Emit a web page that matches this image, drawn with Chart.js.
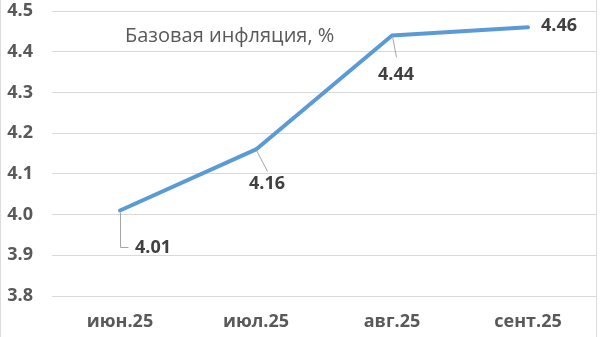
<!DOCTYPE html>
<html>
<head>
<meta charset="utf-8">
<script src="https://cdn.jsdelivr.net/npm/chart.js@4"></script>
<style>
  html, body { margin: 0; padding: 0; background: #fff; }
  #wrap { width: 600px; height: 337px; position: relative; }
</style>
</head>
<body>
<div id="wrap"><canvas id="inflChart"></canvas></div>
<script>
const months = ['июн.25', 'июл.25', 'авг.25', 'сент.25'];
const coreInflation = [4.01, 4.16, 4.44, 4.46];
const yTicks = [3.8, 3.9, 4.0, 4.1, 4.2, 4.3, 4.4, 4.5];
const chartTitle = 'Базовая инфляция, %';

const FONT = '"Open Sans", sans-serif';

// where each value label sits relative to its point, and its leader line
const labelPlacement = [
  { dx: 15, dy: 37, align: 'left', leader: [[0, 2], [0, 37], [8, 37]] },
  { dx: 11, dy: 34, align: 'center', leader: [[0, 1], [11, 22]] },
  { dx: 4, dy: 39, align: 'center', leader: [[0, 1], [4, 22]] },
  { dx: 13, dy: -1, align: 'left', leader: null },
];

const valueLabels = {
  id: 'valueLabels',
  afterDatasetsDraw(chart) {
    const ctx = chart.ctx;
    const meta = chart.getDatasetMeta(0);
    ctx.save();
    meta.data.forEach((pt, i) => {
      const p = labelPlacement[i];
      if (p.leader) {
        ctx.strokeStyle = '#a6a6a6';
        ctx.lineWidth = 1;
        ctx.beginPath();
        p.leader.forEach(([lx, ly], k) => {
          const x = Math.round(pt.x + lx) + 0.5;
          const y = pt.y + ly;
          if (k === 0) ctx.moveTo(x, y); else ctx.lineTo(x, y);
        });
        ctx.stroke();
      }
      ctx.fillStyle = '#404040';
      ctx.font = 'bold 18px ' + FONT;
      ctx.textAlign = p.align;
      ctx.textBaseline = 'middle';
      ctx.fillText(coreInflation[i].toFixed(2), pt.x + p.dx, pt.y + p.dy);
    });
    // title inside the plot area
    const area = chart.chartArea;
    ctx.fillStyle = '#595959';
    ctx.font = '400 20px ' + FONT;
    ctx.textAlign = 'left';
    ctx.textBaseline = 'middle';
    ctx.fillText(chartTitle, area.left + 73, area.top + 25);
    // thin frame edges seen in the original image
    ctx.strokeStyle = '#dcdcdc';
    ctx.lineWidth = 1;
    ctx.beginPath();
    ctx.moveTo(0.5, 0); ctx.lineTo(0.5, chart.height);
    ctx.moveTo(596.5, 0); ctx.lineTo(596.5, chart.height);
    ctx.stroke();
    ctx.restore();
  }
};

const ctx = document.getElementById('inflChart').getContext('2d');
new Chart(ctx, {
  type: 'line',
  data: {
    labels: months,
    datasets: [{
      data: coreInflation,
      borderColor: '#5b9bd5',
      borderWidth: 4,
      pointRadius: 0,
      tension: 0,
      fill: false,
      borderCapStyle: 'round',
      borderJoinStyle: 'round',
    }]
  },
  options: {
    responsive: true,
    maintainAspectRatio: false,
    animation: false,
    layout: { padding: { top: 11, right: 4, left: 0, bottom: 0 } },
    plugins: {
      legend: { display: false },
      tooltip: { enabled: false },
    },
    scales: {
      x: {
        offset: true,
        grid: { display: false, drawTicks: false },
        border: { display: false },
        ticks: {
          color: '#595959',
          font: { family: FONT, size: 18, weight: 'bold' },
          padding: 15,
          maxRotation: 0,
        },
        afterFit(scale) { scale.height = 41; },
      },
      y: {
        min: 3.8,
        max: 4.5,
        afterBuildTicks(scale) { scale.ticks = yTicks.map(v => ({ value: v })); },
        grid: { color: '#d9d9d9', lineWidth: 1, drawTicks: false },
        border: { display: false },
        ticks: {
          color: '#595959',
          font: { family: FONT, size: 18, weight: 'bold' },
          padding: 19,
          callback: v => v.toFixed(1),
        },
        afterFit(scale) {
          scale.width = 52;
          scale.paddingTop = 0;
          scale.paddingBottom = 0;
        },
      }
    }
  },
  plugins: [valueLabels]
});
</script>
</body>
</html>
